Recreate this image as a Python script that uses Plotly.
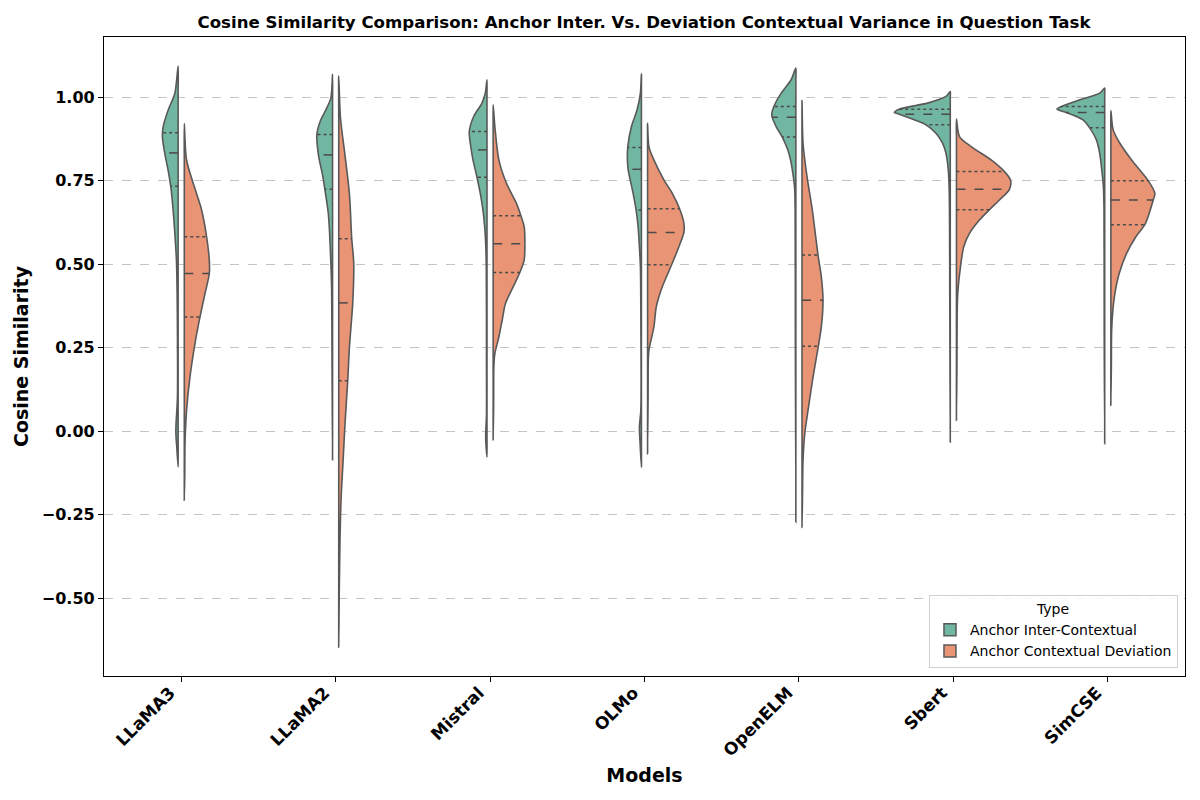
import numpy as np
import plotly.graph_objects as go

MODELS = ["LLaMA3", "LLaMA2", "Mistral", "OLMo", "OpenELM", "Sbert", "SimCSE"]
TYPES = ["Anchor Inter-Contextual", "Anchor Contextual Deviation"]
Y_TICKS = [-0.5, -0.25, 0.0, 0.25, 0.5, 0.75, 1.0]

# ---- density profiles (value grid, relative density) ----
# Anchor Inter-Contextual
LLAMA3_INTER_Y = [1.093, 1.011, 0.961, 0.911, 0.881, 0.831, 0.781, 0.731, 0.662, 0.593, 0.512, 0.413, 0.30, 0.10, 0.0, -0.05, -0.107]
LLAMA3_INTER_D = [0, 3.3, 10, 15, 15.7, 13.3, 10, 7.3, 5, 3.3, 1.7, 1, 0.7, 0.7, 2.3, 1.3, 0]
LLAMA3_INTER_Q = [0.893, 0.833, 0.733]
LLAMA2_INTER_Y = [1.068, 0.997, 0.962, 0.928, 0.888, 0.825, 0.767, 0.724, 0.653, 0.596, 0.504, 0.424, 0.2, -0.086]
LLAMA2_INTER_D = [0, 1.7, 6.7, 12.3, 15.7, 14, 10, 7.7, 4.3, 3, 1.7, 0.9, 0.5, 0]
LLAMA2_INTER_Q = [0.888, 0.827, 0.724]
MISTRAL_INTER_Y = [1.052, 1.012, 0.982, 0.942, 0.897, 0.842, 0.812, 0.76, 0.712, 0.662, 0.612, 0.562, 0.492, 0.2, 0.05, -0.02, -0.078]
MISTRAL_INTER_D = [0, 1.7, 5, 13.3, 17.7, 15.7, 14, 10, 6.7, 4, 2.3, 1.3, 0.7, 0.5, 0.5, 1.3, 0]
MISTRAL_INTER_Q = [0.897, 0.842, 0.76]
OLMO_INTER_Y = [1.07, 1.012, 0.962, 0.912, 0.849, 0.812, 0.784, 0.712, 0.662, 0.612, 0.552, 0.492, 0.3, 0.062, 0.012, -0.038, -0.108]
OLMO_INTER_D = [0, 1, 4.3, 10, 13.7, 14, 13.3, 8.3, 5.3, 3.3, 2, 1, 0.5, 0.6, 2, 1.3, 0]
OLMO_INTER_Q = [0.849, 0.784, 0.662]
OPENELM_INTER_Y = [1.087, 1.052, 1.012, 0.972, 0.952, 0.94, 0.912, 0.881, 0.842, 0.812, 0.772, 0.732, 0.662, 0.3, -0.273]
OPENELM_INTER_D = [0, 4.7, 14.7, 22, 24, 23.7, 19.7, 13.7, 8, 5.3, 3, 1.3, 0.7, 0.5, 0]
OPENELM_INTER_Q = [0.972, 0.94, 0.881]
SBERT_INTER_Y = [1.017, 1.002, 0.982, 0.964, 0.954, 0.949, 0.932, 0.917, 0.892, 0.862, 0.832, 0.782, 0.712, 0.4, -0.033]
SBERT_INTER_D = [0, 4.3, 22.7, 51, 56, 51, 36, 24.3, 14.3, 7.7, 4.3, 2, 1, 0.5, 0]
SBERT_INTER_Q = [0.964, 0.949, 0.917]
SIMCSE_INTER_Y = [1.027, 1.012, 0.992, 0.972, 0.964, 0.954, 0.932, 0.908, 0.872, 0.832, 0.792, 0.732, 0.662, 0.3, -0.038]
SIMCSE_INTER_D = [0, 5, 25, 43.3, 47.7, 38.3, 21.7, 15, 8.3, 5, 3.3, 1.3, 0.7, 0.5, 0]
SIMCSE_INTER_Q = [0.972, 0.954, 0.908]

# Anchor Contextual Deviation
LLAMA3_DEV_Y = [0.921, 0.811, 0.711, 0.662, 0.582, 0.512, 0.472, 0.412, 0.342, 0.263, 0.163, 0.063, -0.036, -0.12, -0.207]
LLAMA3_DEV_D = [0, 2.3, 12.3, 17.3, 22.3, 25, 25, 20.7, 15.7, 10.7, 5.7, 2.3, 0.7, 0.5, 0]
LLAMA3_DEV_Q = [0.582, 0.472, 0.342]
LLAMA2_DEV_Y = [1.063, 0.939, 0.825, 0.71, 0.576, 0.504, 0.384, 0.252, 0.151, 0.023, -0.092, -0.206, -0.321, -0.378, -0.49, -0.647]
LLAMA2_DEV_D = [0, 1.7, 6.3, 10.7, 13, 15, 14, 10.7, 9, 6.3, 4.3, 2.3, 1.3, 1, 0.5, 0]
LLAMA2_DEV_Q = [0.576, 0.384, 0.151]
MISTRAL_DEV_Y = [0.977, 0.912, 0.812, 0.742, 0.682, 0.645, 0.612, 0.561, 0.512, 0.475, 0.432, 0.382, 0.332, 0.282, 0.232, 0.192, 0.08, -0.026]
MISTRAL_DEV_D = [0, 1.7, 5.7, 13.3, 23.3, 27.7, 31, 31.7, 31, 26.7, 20, 12.3, 9, 5.7, 1.7, 0.7, 0.5, 0]
MISTRAL_DEV_Q = [0.645, 0.561, 0.475]
OLMO_DEV_Y = [0.922, 0.852, 0.812, 0.752, 0.712, 0.666, 0.622, 0.595, 0.552, 0.498, 0.432, 0.372, 0.312, 0.242, 0.212, 0.1, -0.068]
OLMO_DEV_D = [0, 1.3, 6.3, 16.3, 24.7, 32, 36.3, 36.3, 31.3, 24, 14.7, 8.7, 6.3, 1.3, 0.7, 0.5, 0]
OLMO_DEV_Q = [0.666, 0.595, 0.498]
OPENELM_DEV_Y = [0.99, 0.862, 0.762, 0.662, 0.527, 0.462, 0.392, 0.312, 0.254, 0.162, 0.062, -0.008, -0.088, -0.188, -0.288]
OPENELM_DEV_D = [0, 1, 5, 10.3, 16, 19.3, 21, 19.3, 16.3, 11, 6, 2.7, 1, 0.5, 0]
OPENELM_DEV_Q = [0.527, 0.392, 0.254]
SBERT_DEV_Y = [0.934, 0.882, 0.852, 0.812, 0.777, 0.752, 0.724, 0.692, 0.663, 0.632, 0.592, 0.552, 0.492, 0.412, 0.352, 0.2, 0.032]
SBERT_DEV_D = [0, 3, 14.7, 34.7, 48, 54, 53, 43, 33, 23, 13, 7.3, 4, 1.3, 0.7, 0.5, 0]
SBERT_DEV_Q = [0.777, 0.724, 0.663]
SIMCSE_DEV_Y = [0.96, 0.902, 0.862, 0.812, 0.75, 0.712, 0.692, 0.652, 0.618, 0.582, 0.532, 0.472, 0.412, 0.352, 0.292, 0.2, 0.077]
SIMCSE_DEV_D = [0, 2.3, 9, 20.7, 37.3, 44, 42.3, 38.3, 34, 25, 15.7, 8.3, 4, 1.7, 0.7, 0.5, 0]
SIMCSE_DEV_Q = [0.75, 0.692, 0.618]

INTER = [
    (LLAMA3_INTER_Y, LLAMA3_INTER_D, LLAMA3_INTER_Q),
    (LLAMA2_INTER_Y, LLAMA2_INTER_D, LLAMA2_INTER_Q),
    (MISTRAL_INTER_Y, MISTRAL_INTER_D, MISTRAL_INTER_Q),
    (OLMO_INTER_Y, OLMO_INTER_D, OLMO_INTER_Q),
    (OPENELM_INTER_Y, OPENELM_INTER_D, OPENELM_INTER_Q),
    (SBERT_INTER_Y, SBERT_INTER_D, SBERT_INTER_Q),
    (SIMCSE_INTER_Y, SIMCSE_INTER_D, SIMCSE_INTER_Q),
]
DEV = [
    (LLAMA3_DEV_Y, LLAMA3_DEV_D, LLAMA3_DEV_Q),
    (LLAMA2_DEV_Y, LLAMA2_DEV_D, LLAMA2_DEV_Q),
    (MISTRAL_DEV_Y, MISTRAL_DEV_D, MISTRAL_DEV_Q),
    (OLMO_DEV_Y, OLMO_DEV_D, OLMO_DEV_Q),
    (OPENELM_DEV_Y, OPENELM_DEV_D, OPENELM_DEV_Q),
    (SBERT_DEV_Y, SBERT_DEV_D, SBERT_DEV_Q),
    (SIMCSE_DEV_Y, SIMCSE_DEV_D, SIMCSE_DEV_Q),
]

# ---- styling ----
COLORS = ["#71b6a0", "#e99575"]
EDGE = "#595959"
DENSITY_TO_X = 1.0 / 154.4
GAP = 0.02
FONT = "DejaVu Sans"

fig = go.Figure()


def add_half(center, side, ys, ds, qs, color, name):
    ys = np.asarray(ys, float)
    ds = np.asarray(ds, float)
    edge = center + side * GAP
    outer_x = edge + side * ds * DENSITY_TO_X
    inner_y = ys[1:-1][::-1]
    px = np.concatenate([outer_x, np.full(len(inner_y), edge), [outer_x[0]]])
    py = np.concatenate([ys, inner_y, [ys[0]]])
    fig.add_trace(go.Scatter(
        x=px, y=py, mode="lines", fill="toself", fillcolor=color,
        line=dict(color=EDGE, width=1.6, shape="spline", smoothing=0.8),
        name=name, legendgroup=name, showlegend=False, hoverinfo="skip",
    ))
    asc_y, asc_d = ys[::-1], ds[::-1]
    for i, q in enumerate(qs):
        w = np.interp(q, asc_y, asc_d) * DENSITY_TO_X
        fig.add_trace(go.Scatter(
            x=[edge, edge + side * w], y=[q, q], mode="lines",
            line=dict(color="#4a4a4a", width=1.5, dash="dash" if i == 1 else "dot"),
            showlegend=False, hoverinfo="skip",
        ))


for i, model in enumerate(MODELS):
    yi, di, qi = INTER[i]
    add_half(i, -1, yi, di, qi, COLORS[0], TYPES[0])
    yd, dd, qd = DEV[i]
    add_half(i, +1, yd, dd, qd, COLORS[1], TYPES[1])

# legend patches
for name, color in zip(TYPES, COLORS):
    fig.add_trace(go.Bar(
        x=[None], y=[None], name=name, legendgroup=name,
        marker=dict(color=color, line=dict(color=EDGE, width=1.5)),
        showlegend=True, hoverinfo="skip",
    ))

# page body has an 8px margin in the browser: compensate so the 1200x800 view matches
W, H = 1192, 792
fig.update_layout(
    width=W, height=H,
    paper_bgcolor="white", plot_bgcolor="white",
    margin=dict(l=96, r=15, t=29, b=124, autoexpand=False),
    font=dict(family=FONT, color="black"),
    title=dict(
        text="Cosine Similarity Comparison: Anchor Inter. Vs. Deviation Contextual Variance in Question Task",
        x=636 / W, xanchor="center", y=1 - 14 / H, yanchor="middle",
        font=dict(family=FONT, size=16.6, weight="bold", color="black"),
        automargin=False,
    ),
    legend=dict(
        title=dict(text="Type", side="top center", font=dict(family=FONT, size=14)),
        x=0.9935, xanchor="right", y=0.0125, yanchor="bottom",
        bgcolor="rgba(255,255,255,0.85)", bordercolor="#d0d0d0", borderwidth=1,
        font=dict(family=FONT, size=14), tracegroupgap=0,
    ),
    showlegend=True,
)

fig.update_xaxes(
    range=[-0.5, 6.5], tickmode="array", tickvals=list(range(len(MODELS))), ticktext=MODELS,
    tickangle=-45, tickfont=dict(family=FONT, size=17, weight="bold"),
    ticklabelshift=-11, ticklabelstandoff=-6,
    ticks="outside", ticklen=5, tickcolor="black",
    showline=True, linecolor="black", linewidth=1.2, mirror=True,
    showgrid=False, zeroline=False, automargin=False,
    title=dict(text="Models", font=dict(family=FONT, size=19, weight="bold"), standoff=9),
)
fig.update_yaxes(
    range=[-0.733, 1.18], tickmode="array", tickvals=Y_TICKS,
    ticktext=[f"{v:.2f}".replace("-", "\u2212") for v in Y_TICKS],
    tickfont=dict(family=FONT, size=16, weight="bold"),
    ticks="outside", ticklen=5, tickcolor="black",
    showline=True, linecolor="black", linewidth=1.2, mirror=True,
    showgrid=True, gridcolor="#c4c4c4", griddash="dash", gridwidth=1,
    zeroline=False, automargin=False,
    title=dict(text="Cosine Similarity", font=dict(family=FONT, size=19, weight="bold"), standoff=8),
)

fig.write_html("out.html")
